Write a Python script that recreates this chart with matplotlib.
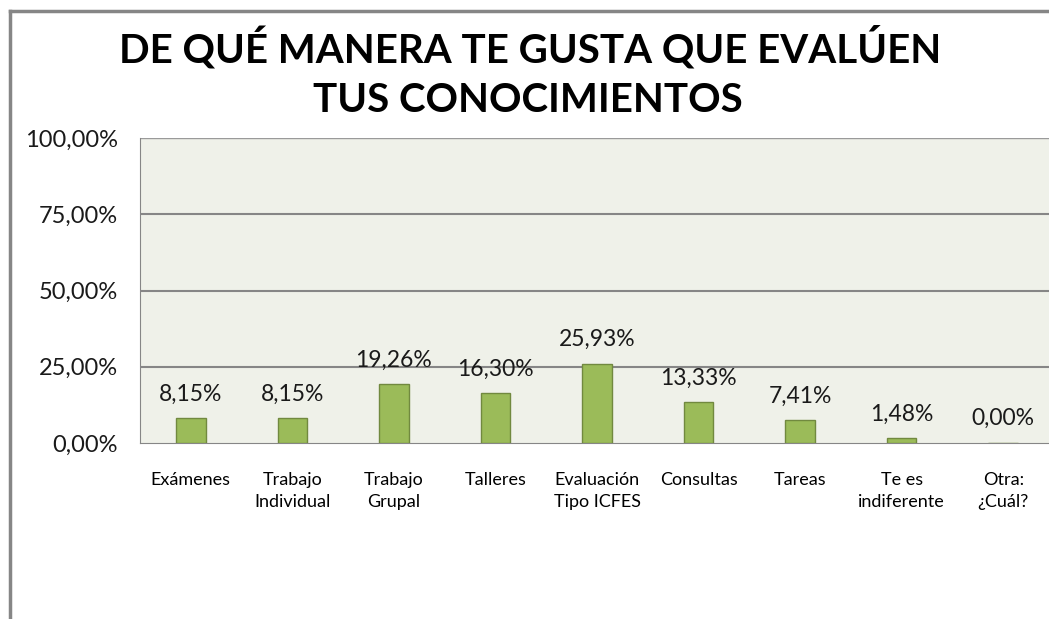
import matplotlib.pyplot as plt
import numpy as np

# datos
categorias = ['Exámenes', 'Trabajo\nIndividual', 'Trabajo\nGrupal', 'Talleres',
              'Evaluación\nTipo ICFES', 'Consultas', 'Tareas', 'Te es\nindiferente',
              'Otra:\n¿Cuál?']
porcentajes = [8.15, 8.15, 19.26, 16.30, 25.93, 13.33, 7.41, 1.48, 0.00]
ticks_y = [0, 25, 50, 75, 100]

plt.rcParams['font.family'] = ['Lato', 'DejaVu Sans']

fig = plt.figure(figsize=(10.49, 6.19), dpi=100)

# marco exterior del grafico (solo se ve arriba e izquierda)
fig.add_artist(plt.Line2D([10/1049, 10/1049], [0, 1 - 11/619], color='#868686', lw=2.5))
fig.add_artist(plt.Line2D([10/1049, 1], [1 - 11/619, 1 - 11/619], color='#868686', lw=2.5))

ax = fig.add_axes([140/1049, 176/619, 914/1049, 305/619])
ax.set_facecolor('#EFF1E9')

x = np.arange(len(categorias))
ax.bar(x, porcentajes, width=0.29, color='#9BBB59', edgecolor='#71893F', linewidth=1, zorder=3)

for xi, v in zip(x, porcentajes):
    ax.text(xi, v + 4.5, f'{v:.2f}%'.replace('.', ','), ha='center', va='bottom',
            fontsize=16.5, color='#1a1a1a')

ax.set_xlim(-0.5, len(categorias) - 0.5)
ax.set_ylim(0, 100)
ax.set_yticks(ticks_y)
ax.set_yticklabels([f'{t:.2f}%'.replace('.', ',') for t in ticks_y], fontsize=17, color='#1a1a1a')
for t in [25, 50, 75]:
    ax.axhline(t, color='#868686', lw=1.5, zorder=1)
ax.axhline(100, color='#9a9a9a', lw=1, zorder=1)

ax.set_xticks(x)
ax.set_xticklabels(categorias, fontsize=13, linespacing=1.45, va='top')
ax.tick_params(axis='both', length=0)
ax.tick_params(axis='x', pad=21)
ax.tick_params(axis='y', pad=16)

for side in ['top', 'right']:
    ax.spines[side].set_visible(False)
ax.spines['left'].set_color('#868686')
ax.spines['bottom'].set_color('#868686')

fig.text(530/1049, 1 - 48/619, 'DE QUÉ MANERA TE GUSTA QUE EVALÚEN', fontsize=29,
         fontweight='bold', ha='center', va='center')
fig.text(528/1049, 1 - 100/619, 'TUS CONOCIMIENTOS', fontsize=29,
         fontweight='bold', ha='center', va='center')

fig.savefig('out.png', dpi=100)
